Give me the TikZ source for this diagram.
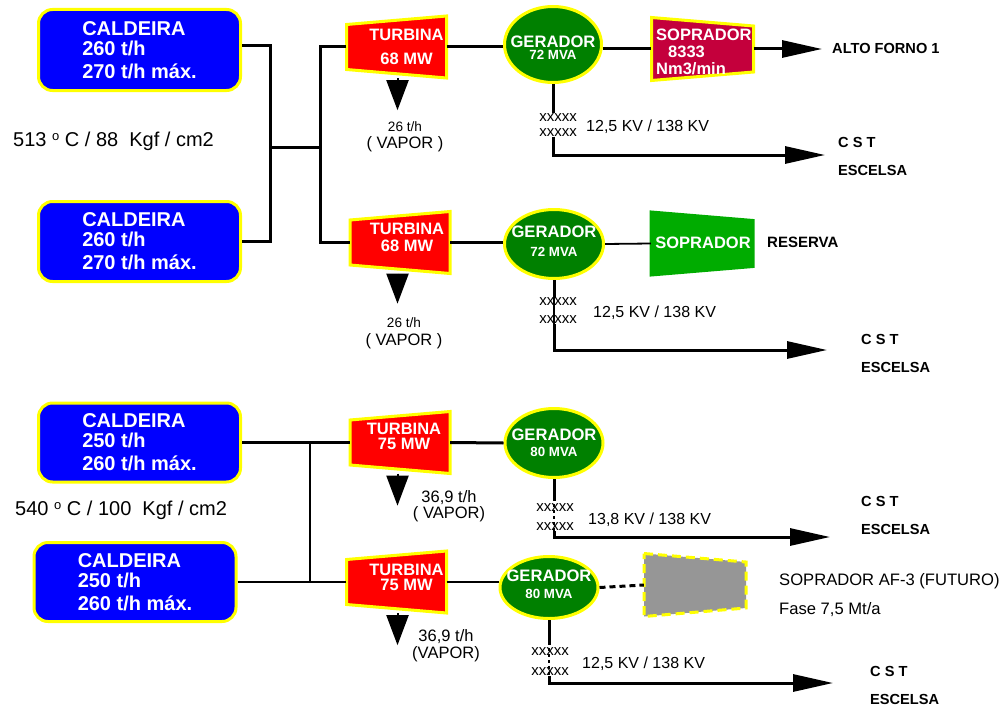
\documentclass[tikz,border=0pt]{standalone}
\usepackage{fontspec}
\setmainfont{Liberation Sans}
\usetikzlibrary{shapes.geometric, arrows.meta}

\definecolor{azul}{RGB}{0,0,255}
\definecolor{amarelo}{RGB}{255,255,0}
\definecolor{vermelho}{RGB}{255,0,0}
\definecolor{verdeg}{RGB}{0,128,0}
\definecolor{verdes}{RGB}{0,172,0}
\definecolor{carmim}{RGB}{196,0,60}
\definecolor{cinza}{RGB}{150,150,150}

\newcommand{\tam}[1]{\fontsize{#1}{#1}\selectfont}
\newcommand{\grau}{\raisebox{6pt}{\tam{13}o}}
% turbina: nome, centro, desvio do texto, texto
\newcommand{\turbina}[4]{%
  \filldraw[turbfill, shift={(#2)}] (-50,-22.5) -- (50,-31) -- (50,31) -- (-50,22.5) -- cycle;
  \node[caixa] (#1) at (#2) {};
  \node[turbtxt] (#1txt) at ([shift={(#3)}]#1.center) {#4};}
% soprador: nome, centro, estilo
\newcommand{\soprador}[3]{%
  \filldraw[#3, shift={(#2)}] (-51,-31.5) -- (51,-23) -- (51,23) -- (-51,31.5) -- cycle;
  \node[caixa, minimum width=102pt, minimum height=63pt] (#1) at (#2) {};}

\begin{document}
\begin{tikzpicture}[x=1pt, y=-1pt,
    linha/.style={line width=3pt},
    fina/.style={line width=1.8pt},
    pontos/.style={line width=2.5pt, dash pattern=on 3pt off 3pt},
    seta/.style={line width=3pt, -{Triangle[length=40pt,width=17pt]}},
    vapor/.style={line width=2pt, -{Triangle[length=30pt,width=22pt]}},
    caldeira/.style={rectangle, rounded corners=14pt, fill=azul, draw=amarelo, line width=3pt,
      minimum width=202pt, minimum height=79pt, inner sep=0pt, text=white, align=left,
      font=\bfseries\tam{20}},
    caixa/.style={rectangle, draw=none, minimum width=100pt, minimum height=62pt, inner sep=0pt},
    turbfill/.style={fill=vermelho, draw=amarelo, line width=3pt},
    turbtxt/.style={text=white, align=center, inner sep=0pt, font=\bfseries\fontsize{16.5}{17}\selectfont},
    gerador/.style={ellipse, fill=verdeg, draw=amarelo, line width=3pt, minimum width=98pt,
      minimum height=69pt, inner sep=0pt},
    gertxt/.style={text=white, align=center, inner sep=0pt, font=\bfseries\fontsize{16.6}{16}\selectfont},
    soprafill/.style={fill=carmim, draw=amarelo, line width=3pt},
    sopraverde/.style={fill=verdes, draw=verdes, line width=3pt},
    soprafuturo/.style={fill=cinza, draw=amarelo, line width=3pt, dash pattern=on 9pt off 5pt},
    sopratxt/.style={text=white, align=left, inner sep=0pt, font=\bfseries\fontsize{16.5}{16.5}\selectfont},
    trafo/.style={align=center, inner sep=0pt, font=\fontsize{15}{17}\selectfont},
    rotulo/.style={inner sep=0pt, font=\tam{16}},
    vaportxt/.style={align=center, inner sep=0pt, anchor=north, font=\fontsize{16.5}{17}\selectfont},
    negrito/.style={inner sep=0pt, align=left, font=\bfseries\fontsize{14.6}{27.5}\selectfont}]

  \useasboundingbox (0,0) rectangle (1008,709);

  % caldeiras
  \node[caldeira, minimum height=81pt] (cal1) at (139.5,50)    {CALDEIRA\\260 t/h\\[3pt]270 t/h máx.};
  \node[caldeira, minimum height=80pt] (cal2) at (139.5,241.5) {CALDEIRA\\260 t/h\\[3pt]270 t/h máx.};
  \node[caldeira] (cal3) at (139.5,442.5) {CALDEIRA\\250 t/h\\[3pt]260 t/h máx.};
  \node[caldeira] (cal4) at (135,582)     {CALDEIRA\\250 t/h\\[3pt]260 t/h máx.};

  \node[rotulo, anchor=base west, font=\tam{20}] (temp1) at (13,146) {513 \grau{} C / 88\ \ Kgf / cm2};
  \node[rotulo, anchor=base west, font=\tam{20}] (temp2) at (15,515) {540 \grau{} C / 100\ \ Kgf / cm2};

  % turbinas
  \turbina{t1}{396.5,47}{10,0}{TURBINA\\[7pt]68 MW}
  \turbina{t2}{400,242.5}{7,-5}{TURBINA\\68 MW}
  \turbina{t3}{400,442.5}{4,-6}{TURBINA\\[-2pt]75 MW}
  \turbina{t4}{396.5,582}{10,-5}{TURBINA\\[-2pt]75 MW}

  % geradores
  \node[gerador, minimum width=97pt, minimum height=76pt] (g1) at (553,44.5) {};
  \node[gertxt] (g1txt) at ([yshift=-3pt]g1.center) {GERADOR\\[-4pt]{\tam{13.3}72 MVA}};
  \node[gerador, minimum width=99pt] (g2) at (554,244) {};
  \node[gertxt] (g2txt) at ([yshift=2.5pt]g2.center) {GERADOR\\[3pt]{\tam{13.3}72 MVA}};
  \node[gerador] (g3) at (554,443) {};
  \node[gertxt] (g3txt) at (g3.center) {GERADOR\\{\tam{13.3}80 MVA}};
  \node[gerador, minimum height=62pt] (g4) at (549,587.5) {};
  \node[gertxt] (g4txt) at ([yshift=3pt]g4.center) {GERADOR\\[1pt]{\tam{13.3}80 MVA}};

  % sopradores
  \soprador{s1}{702.5,49}{soprafill}
  \node[sopratxt, anchor=north west] (s1txt) at (656,29) {SOPRADOR\\\hspace*{12pt}8333\\[0.5pt]Nm3/min};
  \soprador{s2}{702,243.5}{sopraverde}
  \node[sopratxt] (s2txt) at (703,243) {SOPRADOR};
  \soprador{s4}{695,585}{soprafuturo}

  % vapor
  \draw[vapor] ([xshift=1pt]t1.south) -- ++(0,32);
  \draw[vapor] ([xshift=-2.5pt]t2.south) -- ++(0,30);
  \draw[vapor] ([xshift=-2.5pt]t3.south) -- ++(0,32);
  \draw[vapor] ([xshift=1pt]t4.south) -- ++(0,32);
  \node[vaportxt] (v1) at (405,121) {{\tam{13.6}26 t/h}\\( VAPOR )};
  \node[vaportxt] (v2) at (404,317) {{\tam{13.6}26 t/h}\\[1pt]( VAPOR )};
  \node[vaportxt] (v3) at (449,490) {36,9 t/h\\[-1pt]( VAPOR)};
  \node[vaportxt] (v4) at (446,629) {36,9 t/h\\(VAPOR)};

  % barramentos
  \coordinate (b1) at (270,147);
  \coordinate (b2) at (320,147);
  \draw[linha] ([yshift=4pt]cal1.east) -| (b1) |- (cal2.east);
  \draw[linha] (b1) -- (b2);
  \draw[linha] (t1.west) -| (b2) |- (t2.west);
  \coordinate (j1) at (310,442.5);
  \coordinate (j2) at (310,582);
  \draw[linha] (cal3.east) -- (t3.west);
  \draw[fina] (j1) -- (j2);
  \draw[fina] (cal4.east) -- (t4.west);

  \draw[linha] (t1.east) -- (t1.east -| g1.west);
  \draw[linha] (t2.east) -- (t2.east -| g2.west);
  \draw[linha] (t3.east) -- (g3.west);
  \draw[fina] (t4.east) -- (t4.east -| g4.west);

  \draw[linha] (s1.west -| g1.east) -- (s1.west);
  \draw[fina] (g2.east) -- (s2.west);
  \draw[linha, dash pattern=on 6pt off 4pt] (g4.east) -- (s4.west);

  \node[negrito, anchor=base west] (af) at (832,53) {ALTO FORNO 1};
  \draw[seta, shorten >=10pt] (s1.east) -- (s1.east -| af.west);
  \node[negrito, anchor=base west, font=\bfseries\tam{15}] (res) at (767,247) {RESERVA};
  \node[rotulo, anchor=base west, font=\tam{16.6}] (fut1) at (779,585) {SOPRADOR AF-3 (FUTURO)};
  \node[rotulo, anchor=base west, font=\tam{16.6}] (fut2) at (779,614) {Fase 7,5 Mt/a};

  % transformadores
  \node[trafo] (x1) at (558,125) {xxxxx\\[-2pt]xxxxx};
  \node[trafo] (x2) at (558,311) {xxxxx\\[1pt]xxxxx};
  \node[trafo] (x3) at (555,517.5) {xxxxx\\[2pt]xxxxx};
  \node[trafo] (x4) at (550,662) {xxxxx\\[3pt]xxxxx};
  \node[rotulo, anchor=base west] (kv1) at (586,131) {12,5 KV / 138 KV};
  \node[rotulo, anchor=base west] (kv2) at (593,317) {12,5 KV / 138 KV};
  \node[rotulo, anchor=base west] (kv3) at (588,524) {13,8 KV / 138 KV};
  \node[rotulo, anchor=base west] (kv4) at (582,668) {12,5 KV / 138 KV};

  \coordinate (e1) at (825,155);
  \coordinate (e2) at (827,350);
  \coordinate (e3) at (830,537);
  \coordinate (e4) at (833,683);
  \draw[linha] (g1.south) -- (g1.south |- x1.north);
  \draw[seta] (g1.south |- x1.south) |- (e1);
  \draw[linha] (g2.south) -- (g2.south |- x2.north);
  \draw[fina] (g2.south |- x2.north) -- (g2.south |- x2.south);
  \draw[seta] (g2.south |- x2.south) |- (e2);
  \draw[linha] (g3.south) -- ([yshift=3pt]g3.south |- x3.north);
  \draw[pontos] (g3.south |- x3.north) -- (g3.south |- x3.south);
  \draw[seta] (g3.south |- x3.south) |- (e3);
  \draw[linha] (g4.south) -- ([yshift=3pt]g4.south |- x4.north);
  \draw[pontos] (g4.south |- x4.north) -- (g4.south |- x4.south);
  \draw[seta] (g4.south |- x4.south) |- (e4);

  \node[negrito, anchor=north west] (cst1) at (838,137.5) {C S T\\ESCELSA};
  \node[negrito, anchor=north west] (cst2) at (861,334.5) {C S T\\ESCELSA};
  \node[negrito, anchor=north west] (cst3) at (861,496.5) {C S T\\ESCELSA};
  \node[negrito, anchor=north west] (cst4) at (870,666.5) {C S T\\ESCELSA};
\end{tikzpicture}
\end{document}
